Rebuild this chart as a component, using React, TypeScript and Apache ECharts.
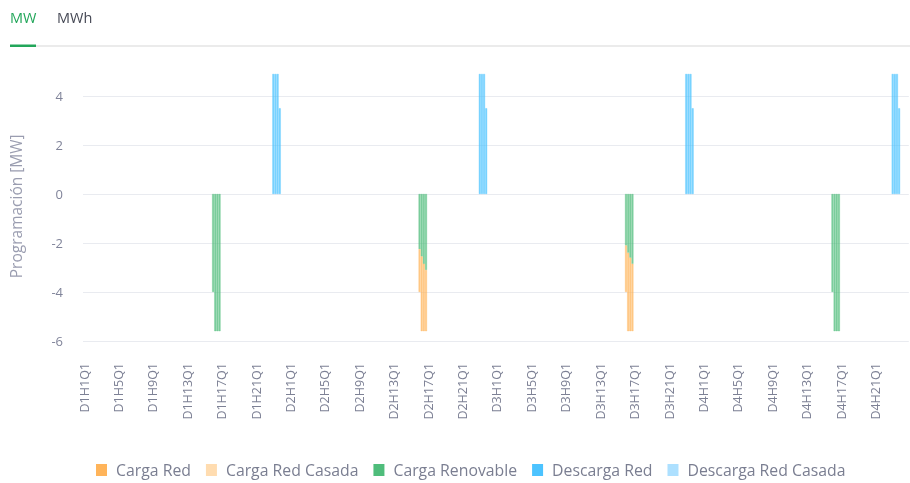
import React, { useEffect, useRef } from "react";
import * as echarts from "echarts";

const days = ["D1", "D2", "D3", "D4"];
const hoursPerDay = 24;
const quarters = ["Q1", "Q2", "Q3", "Q4"];

// start category of each block and its quarter-hour values
const chargeStart = ["D1H16Q1", "D2H16Q1", "D3H16Q1", "D4H16Q1"];
const cargaRenovable = [
  [-4, -5.6, -5.6, -5.6],
  [-2.25, -2.55, -2.85, -3.1],
  [-2.1, -2.4, -2.6, -2.85],
  [-4, -5.6, -5.6, -5.6],
];
const cargaRed = [
  [0, 0, 0, 0],
  [-1.75, -3.05, -2.75, -2.5],
  [-1.9, -3.2, -3.0, -2.75],
  [0, 0, 0, 0],
];
const cargaRedCasada = [
  [0, 0, 0, 0],
  [0, 0, 0, 0],
  [0, 0, 0, 0],
  [0, 0, 0, 0],
];
const dischargeStart = ["D1H23Q1", "D2H23Q1", "D3H23Q1", "D4H23Q1"];
const descargaRed = [
  [4.9, 4.9, 4.9, 3.5],
  [4.9, 4.9, 4.9, 3.5],
  [4.9, 4.9, 4.9, 3.5],
  [4.9, 4.9, 4.9, 3.5],
];
const descargaRedCasada = [
  [0, 0, 0, 0],
  [0, 0, 0, 0],
  [0, 0, 0, 0],
  [0, 0, 0, 0],
];

const legendNames = ["Carga Red", "Carga Red Casada", "Carga Renovable", "Descarga Red", "Descarga Red Casada"];
const colors: Record<string, string> = {
  "Carga Red": "#ffb45a",
  "Carga Red Casada": "#ffdcb0",
  "Carga Renovable": "#4fbd7b",
  "Descarga Red": "#4cc3ff",
  "Descarga Red Casada": "#ade0ff",
};

const categories: string[] = [];
days.forEach((d) => {
  for (let h = 1; h <= hoursPerDay; h++) quarters.forEach((q) => categories.push(`${d}H${h}${q}`));
});

function place(starts: string[], blocks: number[][]): (number | null)[] {
  const arr: (number | null)[] = categories.map(() => null);
  starts.forEach((s, i) => {
    const idx = categories.indexOf(s);
    blocks[i].forEach((v, k) => {
      if (v !== 0) arr[idx + k] = v;
    });
  });
  return arr;
}

export default function App() {
  const ref = useRef<HTMLDivElement>(null);
  useEffect(() => {
    if (!ref.current) return;
    const chart = echarts.init(ref.current, null, { renderer: "svg" });
    const mk = (name: string, data: (number | null)[]) => ({
      name,
      type: "bar",
      stack: "total",
      data,
      barCategoryGap: "8%",
      itemStyle: {
        color: colors[name],
        opacity: 0.72,
        borderColor: colors[name],
        borderWidth: 0.4,
      },
    });
    const gridColor = "#e9ebf0";
    chart.setOption({
      animation: false,
      textStyle: { fontFamily: "Open Sans" },
      color: legendNames.map((n) => colors[n]),
      graphic: [
        { type: "text", left: 10, top: 10, style: { text: "MW", fill: "#22a65a", font: "500 14.5px 'Open Sans'" } },
        { type: "text", left: 57, top: 10, style: { text: "MWh", fill: "#464955", font: "500 14.5px 'Open Sans'" } },
        { type: "rect", shape: { x: 10, y: 45, width: 900, height: 2 }, style: { fill: "#ebebeb" } },
        { type: "rect", shape: { x: 10, y: 44.5, width: 26, height: 2.5 }, style: { fill: "#22a65a" } },
      ],
      legend: {
        data: legendNames,
        left: 91,
        top: 457,
        icon: "rect",
        itemWidth: 11,
        itemHeight: 12,
        itemGap: 15,
        itemStyle: { opacity: 1, borderWidth: 0 },
        textStyle: { fontSize: 15.8, color: "#7a7e91", padding: [0, 0, 0, 4] },
      },
      grid: { left: 79.5, right: 1.2, top: 71.5, bottom: 142 },
      xAxis: {
        type: "category",
        data: categories,
        axisLine: { show: false },
        axisTick: { show: false },
        axisLabel: { interval: 15, rotate: 90, margin: 22, fontSize: 12.5, color: "#7d8195" },
        splitLine: { show: false },
      },
      yAxis: {
        type: "value",
        min: -6,
        max: 5,
        interval: 2,
        name: "Programación [MW]",
        nameLocation: "middle",
        nameGap: 59,
        nameTextStyle: { fontSize: 15.5, color: "#9a9db0" },
        axisLabel: { showMaxLabel: false, fontSize: 13, color: "#80849a", margin: 20 },
        splitLine: {
          lineStyle: { color: [gridColor, gridColor, gridColor, gridColor, gridColor, gridColor, "rgba(0,0,0,0)"], width: 1 },
        },
      },
      series: [
        mk("Carga Renovable", place(chargeStart, cargaRenovable)),
        mk("Carga Red", place(chargeStart, cargaRed)),
        mk("Carga Red Casada", place(chargeStart, cargaRedCasada)),
        mk("Descarga Red", place(dischargeStart, descargaRed)),
        mk("Descarga Red Casada", place(dischargeStart, descargaRedCasada)),
      ],
    });
    return () => chart.dispose();
  }, []);
  return <div ref={ref} style={{ position: "fixed", left: 0, top: 0, width: 910, height: 483 }} />;
}
